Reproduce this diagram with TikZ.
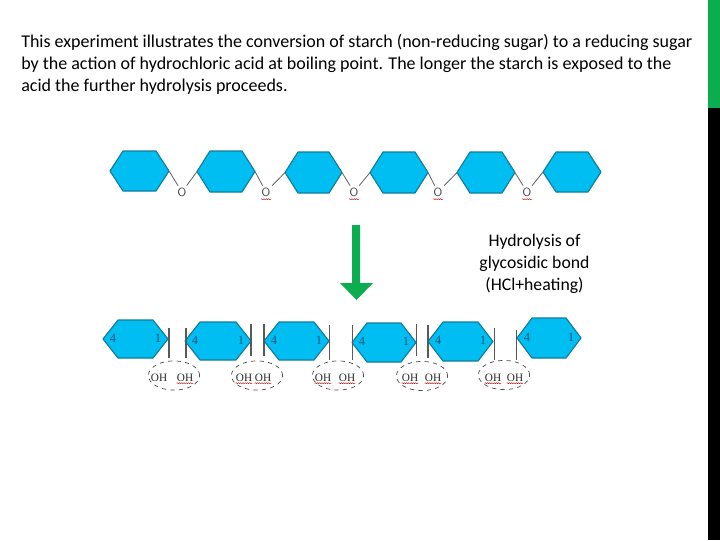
\documentclass[tikz,border=0pt]{standalone}
\usepackage{fontspec}
\setmainfont{Carlito}
\newfontfamily\serifOH{Liberation Serif}
\usepackage{xcolor}
\usetikzlibrary{decorations.pathmorphing,shapes.geometric}
\definecolor{sugarblue}{HTML}{00BDF2}
\definecolor{sugaredge}{HTML}{127C98}
\definecolor{digitblue}{HTML}{14587A}
\definecolor{slidegreen}{HTML}{0CAD4E}
\tikzset{
	sugar/.style={draw=sugaredge,fill=sugarblue,line width=0.8pt,line join=round},
	bond/.style={draw=black!60,line width=0.6pt},
	oxy/.style={font=\sffamily\fontsize{8.5}{9}\selectfont,text=black!70,inner sep=1.2pt},
	carbon/.style={font=\serifOH\fontsize{9}{9}\selectfont,text=digitblue,inner sep=0pt},
	hydroxyl/.style={font=\serifOH\fontsize{8}{9}\selectfont,text=black!85,inner sep=0pt},
	pair/.style={draw=black!70,dashed,line width=0.5pt,ellipse},
	squiggle/.style={draw=red!70!black,line width=0.3pt,decorate,decoration={snake,amplitude=0.35pt,segment length=1.6pt}}
}
\begin{document}
\begin{tikzpicture}[x=0.025cm,y=-0.025cm]
		\useasboundingbox (0,0) rectangle (720,540);
		\fill[slidegreen] (708,0) rectangle (720,108);
		\fill[black] (708,108) rectangle (720,540);
		%
		\node[anchor=north west,inner sep=0pt,align=left,font=\fontsize{12.8}{15.6}\selectfont] (intro) at (21,34)
		{This experiment illustrates the conversion of starch (non-reducing sugar) to a reducing sugar\\
		by the action of hydrochloric acid at boiling point. The longer the starch is exposed to the\\
		acid the further hydrolysis proceeds.};
		\node[align=center,font=\fontsize{12.6}{15.6}\selectfont] (label) at (534.5,263.5)
		{Hydrolysis of\\glycosidic bond\\(HCl+heating)};
		%
		% upper chain
		\foreach \n/\l/\r/\t/\b in {1/110/169/151/191,2/197/255/151/192,3/285/342/152/193,4/370/428/152/193,5/457/515/152/193,6/543/601/152/192}{
			\draw[sugar] (\l,{(\t+\b)/2}) coordinate (a\n l) -- ({\l+13},\t) -- ({\r-13},\t) -- (\r,{(\t+\b)/2}) coordinate (a\n r) -- ({\r-13},\b) -- ({\l+13},\b) -- cycle;
		}
		\foreach \n/\x in {1/182,2/266,3/354,4/438,5/527}
			\node[oxy] (o\n) at (\x,192) {O};
		\path[bond]
		(a1r) edge (o1) (o1) edge (a2l)
		(a2r) edge (o2) (o2) edge (a3l)
		(a3r) edge (o3) (o3) edge (a4l)
		(a4r) edge (o4) (o4) edge (a5l)
		(a5r) edge (o5) (o5) edge (a6l);
		\foreach \n in {2,3,4,5}
			\draw[squiggle] ([xshift=-3.5pt,yshift=-0.6pt]o\n.south) -- ([xshift=3.5pt,yshift=-0.6pt]o\n.south);
		%
		% arrow
		\fill[slidegreen] (352,225) -- (360,225) -- (360,283) -- (373,283) -- (356.5,300) -- (340,283) -- (352,283) -- cycle;
		%
		% lower chain
		\foreach \n/\l/\r/\t/\b in {1/103/168/320/358,2/185/251/322/360,3/264/329/322/360,4/352/416/323/362,5/428/493/322/361,6/517/581/318/358}{
			\draw[sugar] (\l,{(\t+\b)/2}) -- ({\l+15},\t) -- ({\r-15},\t) -- (\r,{(\t+\b)/2}) -- ({\r-15},\b) -- ({\l+15},\b) -- cycle;
			\node[carbon] (c\n a) at ({\l+10},{(\t+\b)/2-1}) {4};
			\node[carbon] (c\n b) at ({\r-10},{(\t+\b)/2-1}) {1};
		}
		\foreach \x/\t/\b/\w in {169/328/358/1.3,186/328/358/1.3,251/324/356/0.8,264/324/356/1.3,329/325/360/0.6,352/325/360/0.6,416/324/356/0.6,428/325/358/1.3,494/328/360/0.6,516/330/360/0.7}
			\draw[draw=black!65,line width=\w pt] (\x,\t) -- (\x,\b);
		\foreach \n/\x/\y/\p/\q in {1/174/375.5/159/185,2/257/375.5/244/263,3/338/375.5/323/347,4/422/376/410/433,5/504/375/493/515}{
			\node[pair,minimum width=1.28cm,minimum height=0.73cm,inner sep=0pt] (e\n) at (\x,\y) {};
			\node[hydroxyl] (p\n) at (\p,378) {OH};
			\node[hydroxyl] (q\n) at (\q,378) {OH};
			\draw[squiggle] ([yshift=-0.8pt]q\n.south west) -- ([yshift=-0.8pt]q\n.south east);
		}
		\foreach \n in {2,3,4,5}
			\draw[squiggle] ([yshift=-0.8pt]p\n.south west) -- ([yshift=-0.8pt]p\n.south east);
		\end{tikzpicture}
\end{document}
